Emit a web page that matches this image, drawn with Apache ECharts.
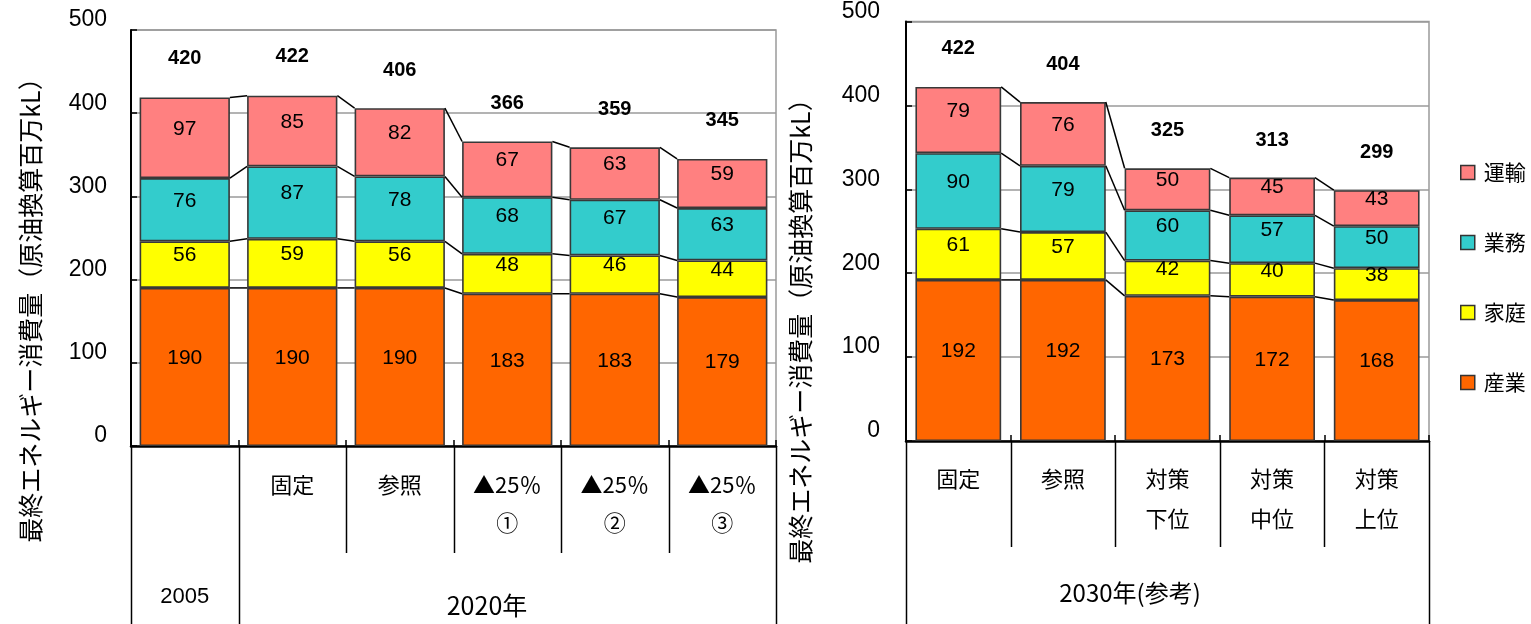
<!DOCTYPE html>
<html>
<head>
<meta charset="utf-8">
<script src="https://cdn.jsdelivr.net/npm/echarts@6/dist/echarts.min.js"></script>
<style>
  html, body { margin: 0; padding: 0; background: #fff; }
  #chart { width: 1531px; height: 624px; }
</style>
</head>
<body>
<div id="chart"></div>
<script>
// 最終エネルギー消費量（原油換算百万kL）: 2005年・2020年 と 2030年（参考）
const seriesNames = ['産業', '家庭', '業務', '運輸'];
const seriesColors = ['#FF6600', '#FFFF00', '#33CCCC', '#FF8080'];
const legendOrder = ['運輸', '業務', '家庭', '産業'];
const yTicks = [0, 100, 200, 300, 400, 500];

// 2005年・2020年
const leftCategories = ['', '固定', '参照', '▲25％\n①', '▲25％\n②', '▲25％\n③'];
const leftSangyo = [190, 190, 190, 183, 183, 179];
const leftKatei = [56, 59, 56, 48, 46, 44];
const leftGyomu = [76, 87, 78, 68, 67, 63];
const leftUnyu = [97, 85, 82, 67, 63, 59];
const leftTotals = [420, 422, 406, 366, 359, 345];
const leftGroupLabels = ['2005', '2020年'];

// 2030年（参考）
const rightCategories = ['固定', '参照', '対策\n下位', '対策\n中位', '対策\n上位'];
const rightSangyo = [192, 192, 173, 172, 168];
const rightKatei = [61, 57, 42, 40, 38];
const rightGyomu = [90, 79, 60, 57, 50];
const rightUnyu = [79, 76, 50, 45, 43];
const rightTotals = [422, 404, 325, 313, 299];
const rightGroupLabel = '2030年(参考)';

const yTitle = '最終エネルギー消費量（原油換算百万kL）';

const NUM_FONT = "'Liberation Sans', 'Noto Sans CJK JP', sans-serif";
const JP_FONT = "'Noto Sans CJK JP', sans-serif";

const chart = echarts.init(document.getElementById('chart'), null, { renderer: 'canvas' });

function yAxisFor(gridIndex, margin) {
  return {
    type: 'value', gridIndex, min: yTicks[0], max: yTicks[yTicks.length - 1], interval: 100,
    axisLine: { show: true, lineStyle: { color: '#000', width: 2 } },
    axisTick: { show: true, inside: true, length: 6, lineStyle: { color: '#000', width: 1.5 } },
    axisLabel: { fontSize: 23, color: '#000', fontFamily: NUM_FONT, margin,
                 verticalAlign: 'bottom', lineHeight: 20 },
    splitLine: { show: true, lineStyle: { color: '#9a9a9a', width: 1.5 } }
  };
}

function xAxisFor(gridIndex, cats, margin, lineHeight) {
  return {
    type: 'category', gridIndex, data: cats,
    axisLine: { show: true, lineStyle: { color: '#000', width: 2.5 } },
    axisTick: { show: true, inside: true, length: 6, lineStyle: { color: '#000', width: 1.5 } },
    axisLabel: { interval: 0, fontSize: 22, color: '#000', fontFamily: JP_FONT,
                 margin, lineHeight, verticalAlign: 'top' },
    splitLine: { show: false }
  };
}

function stackSeries(axisIndex, stacks, barWidth) {
  return stacks.map((vals, k) => ({
    name: seriesNames[k], type: 'bar', stack: 'total' + axisIndex,
    xAxisIndex: axisIndex, yAxisIndex: axisIndex, data: vals, barWidth,
    itemStyle: { color: seriesColors[k], borderColor: '#383838', borderWidth: 1.6 },
    label: { show: true, position: 'inside', offset: [0, -9], color: '#000',
             fontSize: 21, fontFamily: NUM_FONT },
    emphasis: { disabled: true }, silent: true
  }));
}

// series lines joining the stack boundaries of neighbouring bars
function connectorSeries(axisIndex, stacks, barFrac) {
  const n = stacks[0].length;
  const data = [];
  for (let i = 0; i < n - 1; i++) data.push([i, 0]);
  return {
    type: 'custom', xAxisIndex: axisIndex, yAxisIndex: axisIndex, data, z: 3, silent: true,
    encode: { x: 0, y: 1 },
    renderItem(params, api) {
      const i = api.value(0);
      const half = api.size([1, 0])[0] * barFrac / 2;
      const children = [];
      let c0 = 0, c1 = 0;
      stacks.forEach(s => {
        c0 += s[i]; c1 += s[i + 1];
        const p0 = api.coord([i, c0]);
        const p1 = api.coord([i + 1, c1]);
        children.push({ type: 'line',
          shape: { x1: p0[0] + half, y1: p0[1], x2: p1[0] - half, y2: p1[1] },
          style: { stroke: '#000', lineWidth: 1.5 } });
      });
      return { type: 'group', children };
    }
  };
}

function totalSeries(axisIndex, totals) {
  return {
    type: 'scatter', xAxisIndex: axisIndex, yAxisIndex: axisIndex, data: totals,
    symbolSize: 0, z: 5, silent: true,
    itemStyle: { opacity: 1 },
    label: { show: true, position: 'inside', offset: [0, -38], color: '#000',
             fontSize: 20, fontWeight: 'bold', fontFamily: NUM_FONT, formatter: p => p.value }
  };
}

const leftStacks = [leftSangyo, leftKatei, leftGyomu, leftUnyu];
const rightStacks = [rightSangyo, rightKatei, rightGyomu, rightUnyu];
const LEFT_BAR = 0.84, RIGHT_BAR = 0.82;

chart.setOption({
  animation: false,
  grid: [
    { left: 131, top: 30, width: 645, height: 416, show: true, borderColor: '#9a9a9a', borderWidth: 1.5 },
    { left: 906, top: 21, width: 523, height: 420, show: true, borderColor: '#9a9a9a', borderWidth: 1.5 }
  ],
  xAxis: [xAxisFor(0, leftCategories, 20, 38), xAxisFor(1, rightCategories, 18, 40)],
  yAxis: [yAxisFor(0, 24), yAxisFor(1, 26)],
  legend: {
    data: legendOrder, orient: 'vertical', left: 1455, top: 157,
    icon: 'rect', itemWidth: 14, itemHeight: 14, itemGap: 49,
    itemStyle: { borderColor: '#333', borderWidth: 1.5 },
    textStyle: { fontSize: 21, color: '#000', fontFamily: JP_FONT, padding: [0, 0, 0, 4] },
    selectedMode: false
  },
  series: [
    ...stackSeries(0, leftStacks, (LEFT_BAR * 100) + '%'),
    ...stackSeries(1, rightStacks, (RIGHT_BAR * 100) + '%'),
    connectorSeries(0, leftStacks, LEFT_BAR),
    connectorSeries(1, rightStacks, RIGHT_BAR),
    totalSeries(0, leftTotals),
    totalSeries(1, rightTotals)
  ]
});

// category divider lines below the axes, group labels and axis titles
function dividers(axisIndex, nCats, fullIdx, shortBottom) {
  const x0 = chart.convertToPixel({ xAxisIndex: axisIndex }, 0);
  const w = chart.convertToPixel({ xAxisIndex: axisIndex }, 1) - x0;
  const y0 = chart.convertToPixel({ yAxisIndex: axisIndex }, 0);
  const out = [];
  for (let i = 0; i <= nCats; i++) {
    const x = Math.round(x0 - w / 2 + i * w) + 0.5;
    const full = fullIdx.indexOf(i) >= 0;
    out.push({ type: 'line', silent: true,
      shape: { x1: x, y1: y0, x2: x, y2: full ? 624 : shortBottom },
      style: { stroke: '#000', lineWidth: 1.5 } });
  }
  return out;
}

const leftX0 = chart.convertToPixel({ xAxisIndex: 0 }, 0);
const graphics = [
  ...dividers(0, leftCategories.length, [0, 1, leftCategories.length], 553),
  ...dividers(1, rightCategories.length, [0, rightCategories.length], 547),
  { type: 'text', x: leftX0, y: 597, silent: true,
    style: { text: leftGroupLabels[0], font: '22px ' + NUM_FONT, fill: '#000', textAlign: 'center', textVerticalAlign: 'middle' } },
  { type: 'text', x: 487, y: 605, silent: true,
    style: { text: leftGroupLabels[1], font: '25px ' + JP_FONT, fill: '#000', textAlign: 'center', textVerticalAlign: 'middle' } },
  { type: 'text', x: 1130, y: 593, silent: true,
    style: { text: rightGroupLabel, font: '24px ' + JP_FONT, fill: '#000', textAlign: 'center', textVerticalAlign: 'middle' } },
  { type: 'text', x: 30, y: 304, rotation: Math.PI / 2, silent: true,
    style: { text: yTitle, font: '25px ' + JP_FONT, fill: '#000', textAlign: 'center', textVerticalAlign: 'middle' } },
  { type: 'text', x: 800, y: 325, rotation: Math.PI / 2, silent: true,
    style: { text: yTitle, font: '25px ' + JP_FONT, fill: '#000', textAlign: 'center', textVerticalAlign: 'middle' } }
];
chart.setOption({ graphic: graphics });
</script>
</body>
</html>
